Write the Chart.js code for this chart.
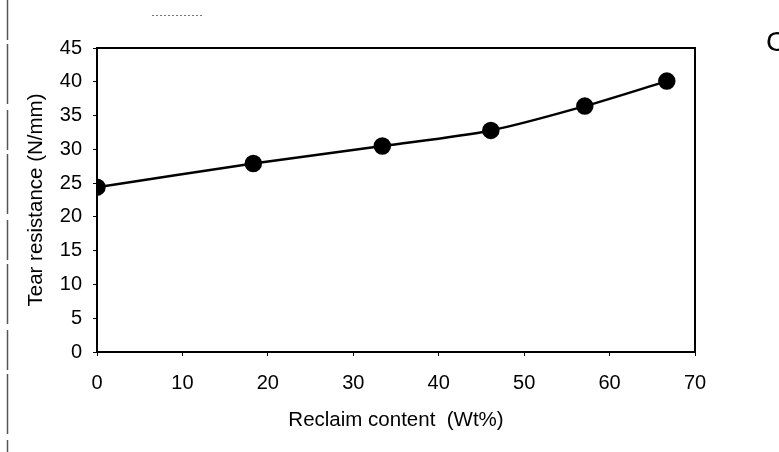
<!DOCTYPE html>
<html>
<head>
<meta charset="utf-8">
<script src="https://cdn.jsdelivr.net/npm/chart.js@4/dist/chart.umd.min.js"></script>
<style>
html,body{margin:0;padding:0;background:#fff;}
#wrap{position:relative;width:779px;height:452px;}
</style>
</head>
<body>
<div id="wrap"><canvas id="c" width="779" height="452"></canvas></div>
<script>
const reclaimContent = [0, 18.3, 33.4, 46.1, 57.1, 66.7];
const tearResistance = [24.4, 27.9, 30.5, 32.8, 36.4, 40.1];
const xTicks = [0, 10, 20, 30, 40, 50, 60, 70];
const yTicks = [0, 5, 10, 15, 20, 25, 30, 35, 40, 45];
const xTitle = 'Reclaim content  (Wt%)';
const yTitle = 'Tear resistance (N/mm)';

const FONT = 'Liberation Sans, Arial, sans-serif';

const boxPlugin = {
  id: 'box',
  afterDraw(chart) {
    const {ctx, chartArea: a} = chart;
    ctx.save();
    ctx.strokeStyle = '#000';
    ctx.lineWidth = 2;
    ctx.strokeRect(a.left, a.top, a.right - a.left, a.bottom - a.top);
    // scan artifacts
    ctx.strokeStyle = '#555';
    ctx.lineWidth = 1.5;
    ctx.setLineDash([40, 4, 60, 6]);
    ctx.beginPath(); ctx.moveTo(7.5, 0); ctx.lineTo(7.5, 452); ctx.stroke();
    ctx.setLineDash([2, 2]);
    ctx.strokeStyle = '#777';
    ctx.lineWidth = 1;
    ctx.beginPath(); ctx.moveTo(152, 15.5); ctx.lineTo(202, 15.5); ctx.stroke();
    ctx.setLineDash([]);
    ctx.fillStyle = '#000';
    ctx.font = '28px ' + FONT;
    ctx.textBaseline = 'middle';
    ctx.fillText('C', 766, 43);
    ctx.restore();
  }
};

new Chart(document.getElementById('c'), {
  type: 'scatter',
  data: {
    datasets: [{
      data: reclaimContent.map((x, i) => ({x: x, y: tearResistance[i]})),
      showLine: true,
      borderColor: '#000',
      backgroundColor: '#000',
      borderWidth: 2.5,
      pointRadius: 7.5,
      pointHoverRadius: 7.5,
      tension: 0.3
    }]
  },
  options: {
    responsive: false,
    animation: false,
    devicePixelRatio: 1,
    plugins: {legend: {display: false}, tooltip: {enabled: false}},
    layout: {padding: {left: 20, right: 84, top: 48, bottom: 15}},
    scales: {
      x: {
        type: 'linear', min: 0, max: 70,
        afterBuildTicks: s => { s.ticks = xTicks.map(v => ({value: v})); },
        afterFit: s => { s.height = 85; },
        grid: {display: true, drawOnChartArea: false, drawTicks: true, tickLength: 4, color: '#000'},
        border: {display: true, color: '#000', width: 2},
        ticks: {color: '#000', font: {family: FONT, size: 20}, padding: 15, maxRotation: 0},
        title: {display: true, text: xTitle, color: '#000', font: {family: FONT, size: 20.5}, padding: {top: 4, bottom: 4}}
      },
      y: {
        type: 'linear', min: 0, max: 45,
        afterBuildTicks: s => { s.ticks = yTicks.map(v => ({value: v})); },
        afterFit: s => { s.width = 77; },
        grid: {display: true, drawOnChartArea: false, drawTicks: true, tickLength: 4, color: '#000'},
        border: {display: true, color: '#000', width: 2},
        ticks: {color: '#000', font: {family: FONT, size: 20}, padding: 11},
        title: {display: true, text: yTitle, color: '#000', font: {family: FONT, size: 20.5}, padding: {top: 4, bottom: 4}}
      }
    }
  },
  plugins: [boxPlugin]
});
</script>
</body>
</html>
